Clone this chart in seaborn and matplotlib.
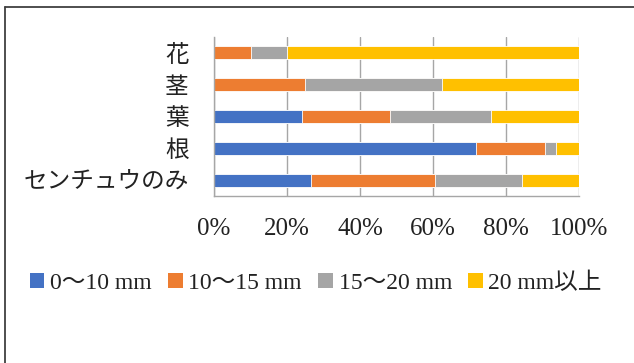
import matplotlib
matplotlib.use("Agg")
import matplotlib.pyplot as plt
import seaborn as sns
import pandas as pd
import numpy as np
from matplotlib.lines import Line2D
from matplotlib.patches import Patch

categories = ["花", "茎", "葉", "根", "センチュウのみ"]
series_names = ["0〜10 mm", "10〜15 mm", "15〜20 mm", "20 mm以上"]
s0_10 = [0.0, 0.0, 24.0, 71.9, 26.5]
s10_15 = [10.0, 25.0, 24.2, 18.8, 34.0]
s15_20 = [10.0, 37.5, 27.6, 3.1, 23.9]
s20_up = [80.0, 37.5, 24.2, 6.2, 15.6]
colors = ["#4472C4", "#ED7D31", "#A5A5A5", "#FFC000"]
xticks = [0, 20, 40, 60, 80, 100]
xtick_labels = ["0%", "20%", "40%", "60%", "80%", "100%"]

sns.set_theme(style="white")
plt.rcParams['font.family'] = ['Liberation Serif', 'Noto Sans CJK JP']

fig = plt.figure(figsize=(6.34, 3.63), dpi=100)
ax = fig.add_axes([214/634, 1-196/363, 365/634, 159/363])

vals = np.array([s0_10, s10_15, s15_20, s20_up])
cum = np.cumsum(vals, axis=0)
df = pd.DataFrame({"cat": categories})
for i in range(3, -1, -1):
    df["v"] = cum[i]
    sns.barplot(data=df, x="v", y="cat", orient="h", color=colors[i],
                width=0.41, saturation=1, edgecolor="white", linewidth=0.6,
                ax=ax, order=categories)

ax.set_xlim(0, 100)
ax.set_ylim(4.5, -0.5)
ax.set_xticks(xticks)
ax.set_xticklabels(xtick_labels, fontsize=18, fontfamily=['Liberation Serif'])
ax.set_yticks(range(len(categories)))
ax.set_yticklabels(categories, fontsize=17, fontfamily=['Noto Sans CJK JP'])
ax.set_xlabel("")
ax.set_ylabel("")
ax.tick_params(axis='x', length=0, pad=16, colors="#222222")
ax.tick_params(axis='y', length=0, pad=18, colors="#222222")
ax.set_axisbelow(True)
ax.grid(axis='x', color="#A6A6A6", linewidth=1.0)
ax.grid(axis='y', visible=False)
for s in ["top", "right"]:
    ax.spines[s].set_visible(False)
for s in ["left", "bottom"]:
    ax.spines[s].set_color("#A6A6A6")
    ax.spines[s].set_linewidth(1.0)

handles = [Patch(facecolor=c, edgecolor='none') for c in colors]
leg = fig.legend(handles, series_names, loc="center", ncol=4,
                 bbox_to_anchor=(316/634, 1-283/363), frameon=False,
                 prop={'family': ['Liberation Serif', 'Noto Sans CJK JP'], 'size': 17},
                 handlelength=0.6, handleheight=0.6, handletextpad=0.25,
                 columnspacing=0.7, borderaxespad=0, borderpad=0)
for t in leg.get_texts():
    t.set_color("#222222")

# outer chart border (top and left visible)
fig.add_artist(Line2D([4.5/634, 4.5/634], [0, 1-7/363], transform=fig.transFigure,
                      color="#404040", linewidth=1.3))
fig.add_artist(Line2D([4.5/634, 1], [1-7/363, 1-7/363], transform=fig.transFigure,
                      color="#404040", linewidth=1.3))

fig.savefig("out.png", dpi=100, facecolor="white")
